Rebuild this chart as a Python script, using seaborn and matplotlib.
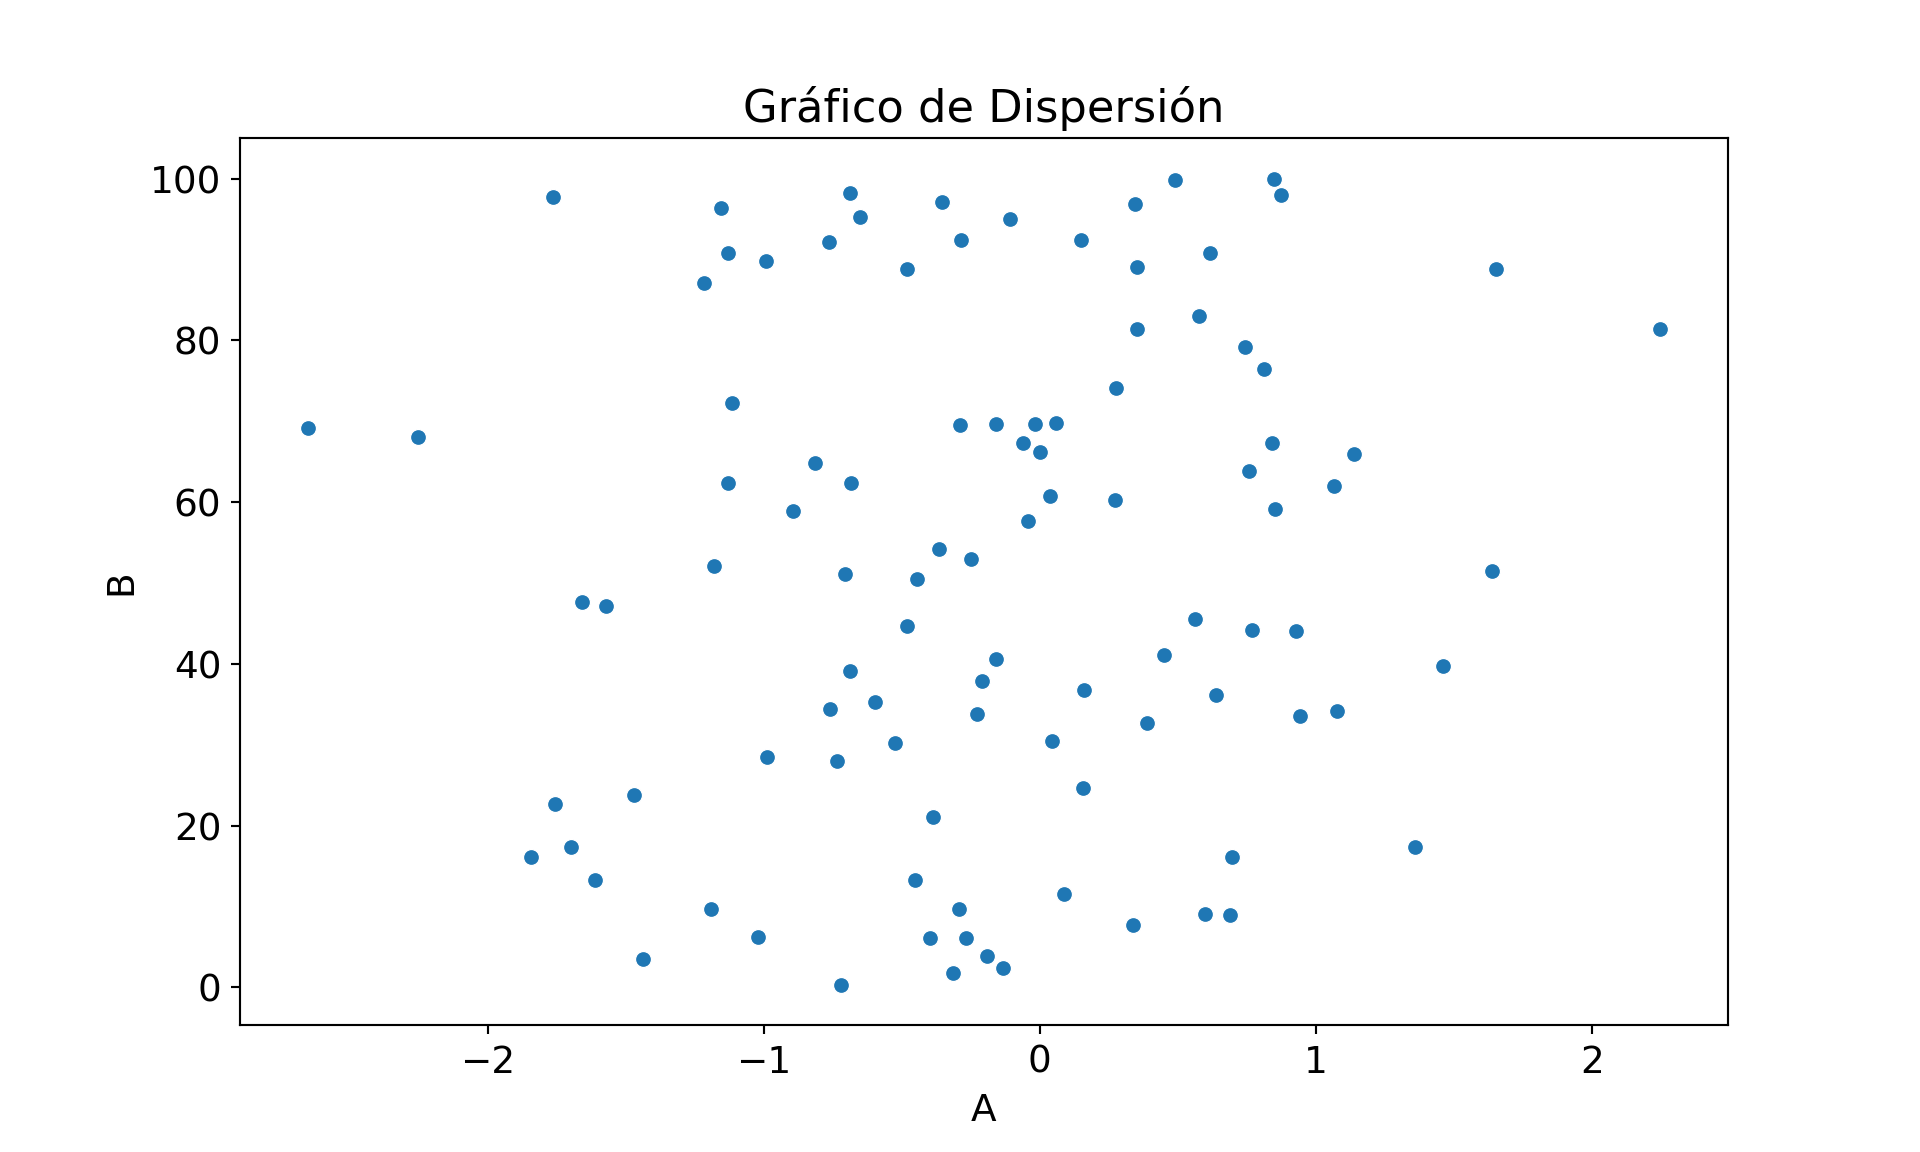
import pandas as pd
import matplotlib
matplotlib.use("Agg")
import matplotlib.pyplot as plt
import seaborn as sns

plt.rcParams["font.size"] = 14

# Valores
A = [-2.653, -2.253, -1.764, -1.756, -1.844, -1.698, -1.613, -1.658, -1.573, -1.471,
     -1.436, -1.218, -1.156, -1.129, -1.116, -1.129, -1.182, -1.191, -1.022, -0.991,
     -0.987, -0.893, -0.813, -0.764, -0.689, -0.653, -0.684, -0.707, -0.689, -0.760,
     -0.733, -0.596, -0.720, -0.524, -0.480, -0.480, -0.444, -0.453, -0.356, -0.364,
     -0.387, -0.396, -0.284, -0.289, -0.249, -0.293, -0.267, -0.316, -0.191, -0.133,
     -0.209, -0.227, -0.160, -0.160, -0.107, -0.062, -0.018, 0.000, 0.058, -0.044,
     0.036, 0.044, 0.089, 0.151, 0.160, 0.156, 0.276, 0.271, 0.347, 0.351,
     0.351, 0.338, 0.387, 0.449, 0.489, 0.564, 0.578, 0.618, 0.640, 0.600,
     0.689, 0.698, 0.742, 0.760, 0.769, 0.813, 0.840, 0.849, 0.876, 0.853,
     0.929, 0.942, 1.067, 1.076, 1.138, 1.360, 1.462, 1.640, 1.653, 2.249]
B = [69.2, 68.0, 97.7, 22.7, 16.1, 17.4, 13.3, 47.7, 47.1, 23.8,
     3.5, 87.1, 96.4, 90.8, 72.3, 62.3, 52.1, 9.7, 6.2, 89.8,
     28.5, 58.9, 64.8, 92.1, 98.2, 95.3, 62.4, 51.1, 39.1, 34.4,
     28.0, 35.3, 0.3, 30.2, 88.8, 44.7, 50.5, 13.3, 97.1, 54.2,
     21.1, 6.1, 92.4, 69.5, 53.0, 9.7, 6.1, 1.8, 3.9, 2.4,
     37.9, 33.8, 40.6, 69.7, 95.0, 67.3, 69.7, 66.2, 69.8, 57.7,
     60.8, 30.5, 11.5, 92.4, 36.8, 24.7, 74.1, 60.2, 96.8, 89.1,
     81.4, 7.7, 32.7, 41.1, 99.8, 45.6, 83.0, 90.8, 36.2, 9.1,
     8.9, 16.1, 79.2, 63.8, 44.2, 76.5, 67.3, 100.0, 98.0, 59.1,
     44.1, 33.5, 62.0, 34.2, 65.9, 17.4, 39.7, 51.5, 88.8, 81.4]

df = pd.DataFrame({"A": A, "B": B})

plt.figure(figsize=(10, 6))
sns.scatterplot(data=df, x="A", y="B")
plt.title("Gráfico de Dispersión")
plt.savefig("out.png", dpi=192)
